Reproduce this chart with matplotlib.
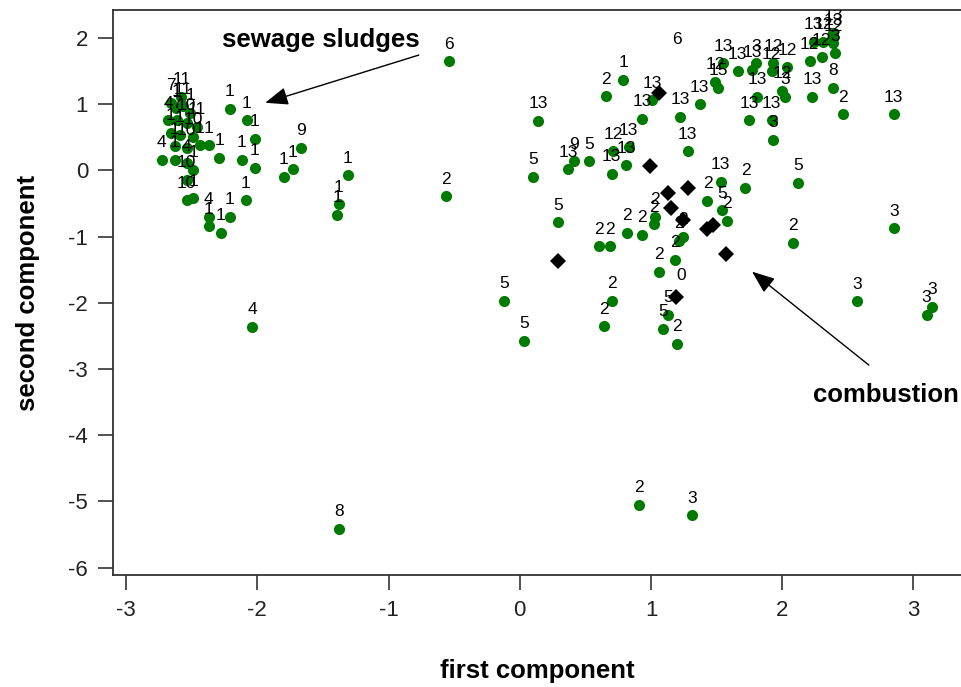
import matplotlib
matplotlib.use("Agg")
import matplotlib.pyplot as plt
from matplotlib.transforms import offset_copy

plt.rcParams['font.family'] = ['Liberation Sans', 'DejaVu Sans']
plt.rcParams['axes.unicode_minus'] = False

# scores of the samples on the first two components (green points)
green_x = [-2.58, -2.66, -2.62, -2.57, -2.51, -2.68, -2.61, -2.54, -2.46, -2.66,
           -2.59, -2.49, -2.63, -2.54, -2.44, -2.37, -2.73, -2.63, -2.54, -2.49,
           -2.54, -2.54, -2.49, -2.37, -2.37, -2.28, -2.21, -2.09, -2.29, -2.21,
           -2.08, -2.02, -2.12, -2.02, -1.67, -1.80, -1.73, -1.31, -1.38, -1.39,
           -0.54, -0.56, -1.38, -2.04, -0.12, 0.03, 0.14, 0.10, 0.29, 0.37,
           0.41, 0.53, 0.70, 0.71, 0.83, 0.81, 0.66, 0.79, 0.93, 1.01,
           1.22, 1.37, 1.28, 1.53, 1.43, 1.72, 2.12, 1.54, 1.58, 1.03,
           1.02, 0.93, 0.82, 0.60, 0.69, 1.24, 1.21, 1.18, 1.06, 2.08,
           0.70, 0.64, 1.13, 1.09, 1.20, 2.85, 2.57, 3.14, 3.10, 0.91,
           1.31, 1.49, 1.51, 1.55, 1.66, 1.77, 1.80, 1.75, 1.81, 1.92,
           1.93, 1.92, 2.04, 2.00, 2.02, 1.93, 2.21, 2.30, 2.23, 2.39,
           2.46, 2.85, 2.40, 2.24, 2.31, 2.39, 2.39, 2.39]
green_y = [1.11, 1.02, 0.94, 0.97, 0.87, 0.76, 0.76, 0.72, 0.66, 0.57,
           0.54, 0.51, 0.36, 0.34, 0.38, 0.38, 0.16, 0.16, 0.11, 0.01,
           -0.14, -0.45, -0.42, -0.70, -0.84, -0.94, -0.70, -0.45, 0.19, 0.93,
           0.76, 0.48, 0.16, 0.04, 0.34, -0.10, 0.02, -0.07, -0.51, -0.67,
           1.65, -0.39, -5.41, -2.36, -1.97, -2.57, 0.75, -0.10, -0.78, 0.02,
           0.14, 0.14, -0.05, 0.29, 0.35, 0.08, 1.12, 1.37, 0.78, 1.06,
           0.81, 1.00, 0.29, -0.17, -0.46, -0.26, -0.19, -0.60, -0.76, -0.70,
           -0.81, -0.97, -0.94, -1.15, -1.15, -1.00, -1.06, -1.35, -1.53, -1.09,
           -1.97, -2.35, -2.18, -2.39, -2.62, -0.87, -1.98, -2.06, -2.18, -5.05,
           -5.21, 1.34, 1.25, 1.62, 1.50, 1.52, 1.62, 0.76, 1.11, 0.76,
           1.62, 1.50, 1.56, 1.20, 1.11, 0.46, 1.65, 1.71, 1.11, 1.25,
           0.85, 0.85, 1.77, 1.94, 1.94, 2.08, 1.92, 2.00]
green_lab = ["11", "7", "1", "11", "1", "4", "7", "10", "11", "1",
             "1", "10", "1", "10", "1", "1", "4", "1", "4", "1",
             "10", "10", "1", "4", "1", "1", "1", "1", "1", "1",
             "1", "1", "1", "1", "9", "1", "1", "1", "1", "1",
             "6", "2", "8", "4", "5", "5", "13", "5", "5", "13",
             "9", "5", "13", "12", "13", "13", "2", "1", "13", "13",
             "13", "13", "13", "13", "2", "2", "5", "5", "2", "2",
             "2", "2", "2", "2", "2", "2", "2", "2", "2", "2",
             "2", "2", "5", "5", "2", "3", "3", "3", "3", "2",
             "3", "12", "15", "13", "13", "13", "3", "13", "13", "13",
             "12", "12", "12", "12", "3", "3", "12", "12", "13", "8",
             "2", "13", "3", "13", "12", "13", "12", "13"]

# combustion samples (black diamonds)
comb_x = [1.06, 0.99, 1.13, 1.28, 1.15, 1.24, 1.43, 1.47, 1.57, 1.19, 0.29]
comb_y = [1.17, 0.07, -0.34, -0.26, -0.57, -0.75, -0.88, -0.82, -1.26, -1.91, -1.37]
comb_lab = ["", "", "", "", "", "", "", "", "", "0", ""]

# stray label without a visible point
extra_x = [1.20]
extra_y = [1.97]
extra_lab = ["6"]

fig = plt.figure(figsize=(9.62, 6.87), dpi=100)
ax = fig.add_axes([0.1175, 0.163, 0.8825, 0.8224])

ax.plot(green_x, green_y, 'o', color='#007a00', markersize=8, markeredgewidth=0)
ax.plot(comb_x, comb_y, 'D', color='black', markersize=8.5, markeredgewidth=0)

above = offset_copy(ax.transData, fig=fig, y=12.2, units='points')
for x, y, s in zip(green_x, green_y, green_lab):
    ax.text(x, y, s, transform=above, ha='center', va='center', fontsize=12.5, clip_on=True)
for x, y, s in zip(comb_x, comb_y, comb_lab):
    if s:
        ax.text(x, y, s, transform=offset_copy(ax.transData, fig=fig, x=4, y=15.5, units='points'),
                ha='center', va='center', fontsize=12.5, clip_on=True)
for x, y, s in zip(extra_x, extra_y, extra_lab):
    ax.text(x, y, s, ha='center', va='center', fontsize=12.5, clip_on=True)

# annotations with arrows
arrow = dict(arrowstyle='-|>,head_length=1.4,head_width=0.55', color='black', lw=1.0,
             shrinkA=0, shrinkB=0)
ax.annotate('', xy=(-1.94, 1.02), xytext=(-0.77, 1.74), arrowprops=arrow)
ax.annotate('', xy=(1.77, -1.53), xytext=(2.66, -2.94), arrowprops=arrow)
ax.text(-1.52, 1.97, 'sewage sludges', ha='center', va='center', fontsize=18.5, fontweight='bold')
ax.text(2.79, -3.39, 'combustion', ha='center', va='center', fontsize=18.5, fontweight='bold')

ax.set_xlim(-3.10, 3.37)
ax.set_ylim(-6.11, 2.42)
ax.set_xticks([-3, -2, -1, 0, 1, 2, 3])
ax.set_yticks([-6, -5, -4, -3, -2, -1, 0, 1, 2])
ax.tick_params(direction='out', length=11, width=1.2, pad=7, labelsize=16,
               colors='#333333', labelcolor='#222222')
for side in ['left', 'bottom', 'top']:
    ax.spines[side].set_linewidth(1.3)
    ax.spines[side].set_color('#333333')
ax.spines['right'].set_visible(False)

ax.set_xlabel('first component', fontsize=18.5, fontweight='bold', labelpad=27)
ax.set_ylabel('second component', fontsize=18.5, fontweight='bold', labelpad=20)

fig.savefig('out.png', dpi=100)
